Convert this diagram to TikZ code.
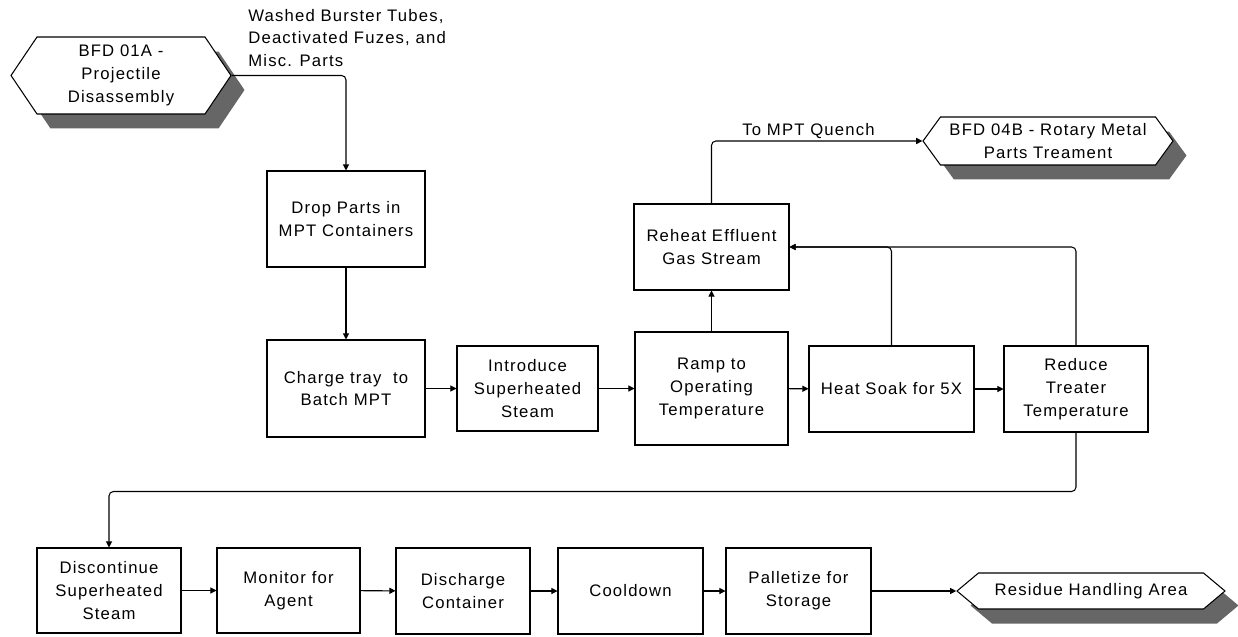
\documentclass[tikz,border=0pt]{standalone}
\usepackage{fontspec}
\setmainfont{Liberation Sans}[LetterSpace=7]
\usetikzlibrary{arrows.meta,shapes.symbols,shadows}

\tikzset{
  proc/.style={draw, line width=0.6pt, inner sep=0pt, align=center, fill=white},
  bfd/.style={draw, line width=0.6pt, shape=signal, signal to=west and east,
    inner sep=0pt, align=center, fill=white,
    drop shadow={shadow xshift=0.27cm, shadow yshift=-0.29cm, fill=black!60, opacity=1}},
  flow/.style={line width=0.6pt, rounded corners=2.5pt, -{Triangle[length=3.5pt,width=3.5pt]}},
}

\begin{document}
\begin{tikzpicture}[x=0.02cm, y=-0.02cm, font=\fontsize{9.5}{13}\selectfont]
        \useasboundingbox (0,0) rectangle (1238,636);
        % 外部框
        \node[bfd, signal pointer angle=112, minimum width=4.4cm, minimum height=1.54cm](bfd1)at(121,75.5){BFD 01A -\\Projectile\\Disassembly};
        \node[bfd, signal pointer angle=108, minimum width=5cm, minimum height=0.96cm](bfd2)at(1048,141){BFD 04B - Rotary Metal\\Parts Treament};
        \node[bfd, signal pointer angle=80, minimum width=5.36cm, minimum height=0.72cm](bfd3)at(1091,591){Residue Handling Area};
        % 上部工序
        \node[proc, minimum width=3.16cm, minimum height=1.92cm](drop)at(346,219){Drop Parts in\\MPT Containers};
        \node[proc, minimum width=3.16cm, minimum height=1.94cm](charge)at(346,388.5){Charge tray\ \ to\\Batch MPT};
        \node[proc, minimum width=2.82cm, minimum height=1.7cm](steam)at(527.5,388.5){Introduce\\Superheated\\Steam};
        \node[proc, minimum width=3.06cm, minimum height=2.26cm](ramp)at(711.5,388.5){Ramp to\\Operating\\Temperature};
        \node[proc, minimum width=3.3cm, minimum height=1.72cm](soak)at(891.5,389){Heat Soak for 5X};
        \node[proc, minimum width=2.88cm, minimum height=1.72cm](reduce)at(1076,389){Reduce\\Treater\\Temperature};
        \node[proc, minimum width=3.1cm, minimum height=1.72cm](reheat)at(711.5,247){Reheat Effluent\\Gas Stream};
        % 下部工序
        \node[proc, minimum width=2.88cm, minimum height=1.7cm](stop)at(109,590.5){Discontinue\\Superheated\\Steam};
        \node[proc, minimum width=2.86cm, minimum height=1.7cm](monitor)at(288.5,590.5){Monitor for\\Agent};
        \node[proc, minimum width=2.68cm, minimum height=1.72cm](discharge)at(463,591){Discharge\\Container};
        \node[proc, minimum width=2.9cm, minimum height=1.72cm](cool)at(630.5,591){Cooldown};
        \node[proc, minimum width=2.9cm, minimum height=1.72cm](pallet)at(798.5,591){Palletize for\\Storage};
        % 连线
        \node[anchor=west, align=left, inner sep=0pt](parts)at(248,38){Washed Burster Tubes,\\Deactivated Fuzes, and\\Misc. Parts};
        \draw[flow](bfd1.east)-|(drop.north);
        \draw[flow](drop)to(charge);
        \draw[flow](charge)to(steam);
        \draw[flow](steam)to(ramp);
        \draw[flow](ramp)to(soak);
        \draw[flow](soak)to(reduce);
        \draw[flow](ramp)to(reheat);
        \draw[flow](reheat.north)|-(bfd2.west)node[pos=0.73, anchor=base, inner sep=0pt, yshift=3pt]{To MPT Quench};
        \draw[flow](soak.north)|-(reheat.east);
        \draw[flow](reduce.north)|-(reheat.east);
        \draw[flow](reduce.south)--++(0,59)-|(stop.north);
        \draw[flow](stop)to(monitor);
        \draw[flow](monitor)to(discharge);
        \draw[flow](discharge)to(cool);
        \draw[flow](cool)to(pallet);
        \draw[flow](pallet)to(bfd3.west);
    \end{tikzpicture}
\end{document}
